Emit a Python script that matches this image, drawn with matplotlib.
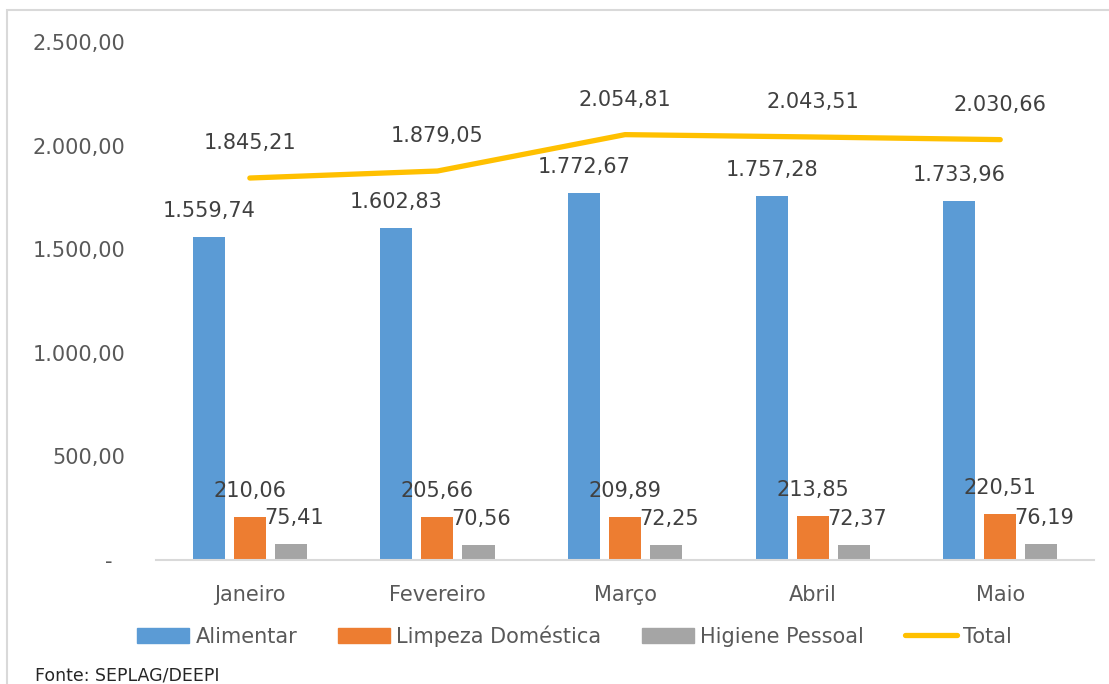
import numpy as np
import matplotlib.pyplot as plt
from matplotlib.patches import Rectangle
from matplotlib.lines import Line2D

meses = ['Janeiro', 'Fevereiro', 'Março', 'Abril', 'Maio']
alimentar = [1559.74, 1602.83, 1772.67, 1757.28, 1733.96]
limpeza = [210.06, 205.66, 209.89, 213.85, 220.51]
higiene = [75.41, 70.56, 72.25, 72.37, 76.19]
total = [1845.21, 1879.05, 2054.81, 2043.51, 2030.66]

series = ['Alimentar', 'Limpeza Doméstica', 'Higiene Pessoal', 'Total']
cores = ['#5B9BD5', '#ED7D31', '#A5A5A5', '#FFC000']

plt.rcParams['font.family'] = ['DejaVu Sans']
TXT = '#404040'
EIXO = '#595959'


def fmt_br(v):
    s = f'{v:,.2f}'
    return s.replace(',', 'X').replace('.', ',').replace('X', '.')


fig = plt.figure(figsize=(11.09, 6.84), dpi=100)
ax = fig.add_axes([0.1407, 0.1813, 0.8458, 0.7566])

# moldura do gráfico (só topo e esquerda ficam visíveis)
fig.patches.append(Rectangle((7 / 1109, -0.1), 1.2, (684 - 10) / 684 + 0.1,
                             transform=fig.transFigure, fill=False,
                             edgecolor='#d9d9d9', linewidth=1.5))

x = np.arange(len(meses))
w = 0.171
passo = 0.219
for i, (vals, cor) in enumerate(zip([alimentar, limpeza, higiene], cores)):
    pos = x + (i - 1) * passo
    ax.bar(pos, vals, width=w, color=cor, zorder=2)
    dx = 3 if i == 2 else 0
    for xp, v in zip(pos, vals):
        ax.annotate(fmt_br(v), (xp, v), xytext=(dx, 26), textcoords='offset pixels',
                    ha='center', va='center', fontsize=15, color=TXT)

ax.plot(x, total, color=cores[3], linewidth=3.8, solid_capstyle='round',
        solid_joinstyle='round', zorder=3)
for xp, v in zip(x, total):
    ax.annotate(fmt_br(v), (xp, v), xytext=(0, 35), textcoords='offset pixels',
                ha='center', va='center', fontsize=15, color=TXT)

ax.set_xlim(-0.5, len(meses) - 0.5)
ax.set_ylim(0, 2500)
ax.set_yticks(np.arange(0, 2501, 500))
ax.set_yticklabels(['-  '] + [fmt_br(v) for v in np.arange(500, 2501, 500)])
ax.set_xticks(x)
ax.set_xticklabels(meses)
ax.tick_params(axis='y', length=0, pad=22, labelsize=15, labelcolor=EIXO)
ax.tick_params(axis='x', length=0, pad=18, labelsize=15, labelcolor=EIXO)
for lado in ['top', 'right', 'left']:
    ax.spines[lado].set_visible(False)
ax.spines['bottom'].set_color('#d9d9d9')
ax.spines['bottom'].set_linewidth(1.5)

handles = [Rectangle((0, 0), 1, 1, color=c) for c in cores[:3]]
handles.append(Line2D([0], [0], color=cores[3], linewidth=3.8, solid_capstyle='round'))
fig.legend(handles, series, loc='center', bbox_to_anchor=(0.518, 1 - 636 / 684),
           ncol=4, frameon=False, fontsize=15, labelcolor=EIXO,
           handlelength=2.5, handleheight=0.75, handletextpad=0.3, columnspacing=1.95)

fig.text(35 / 1109, 1 - 676 / 684, 'Fonte: SEPLAG/DEEPI', fontsize=12.5,
         color='#262626', va='center', ha='left')

fig.savefig('out.png', dpi=100)
